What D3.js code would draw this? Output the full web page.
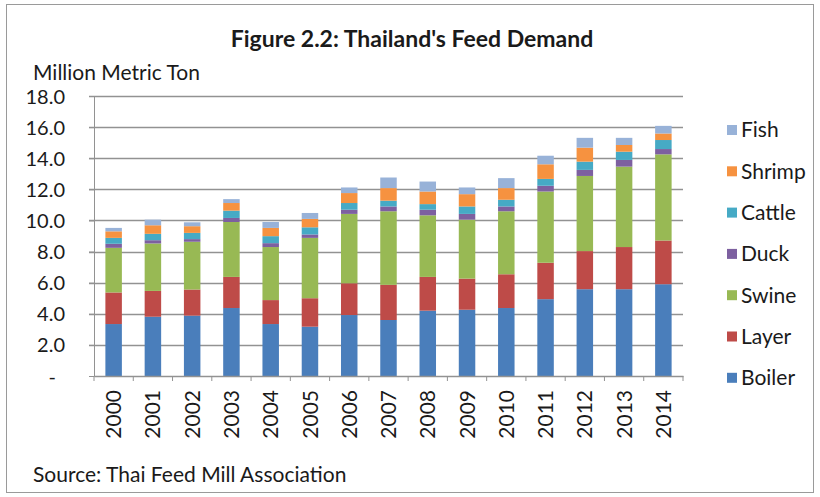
<!DOCTYPE html>
<html><head><meta charset="utf-8">
<script src="https://cdn.jsdelivr.net/npm/d3@7/dist/d3.min.js"></script>
<style>body{margin:0;background:#fff}svg{display:block}text{font-family:Lato,"Open Sans",sans-serif;fill:#1a1a1a}</style>
</head><body><svg id="c" width="820" height="497"></svg>
<script>
const years = ["2000","2001","2002","2003","2004","2005","2006","2007","2008","2009","2010","2011","2012","2013","2014"];
const boiler = [3.34,3.81,3.88,4.37,3.34,3.17,3.92,3.60,4.20,4.26,4.37,4.94,5.58,5.58,5.90];
const layer  = [2.03,1.66,1.68,2.00,1.54,1.83,2.04,2.26,2.17,2.00,2.17,2.34,2.45,2.71,2.81];
const swine  = [2.87,3.05,3.07,3.53,3.41,3.88,4.46,4.73,3.96,3.79,4.05,4.58,4.83,5.17,5.54];
const duck   = [0.26,0.21,0.17,0.26,0.25,0.22,0.27,0.31,0.36,0.37,0.31,0.37,0.39,0.43,0.34];
const cattle = [0.38,0.41,0.40,0.47,0.45,0.46,0.43,0.37,0.36,0.48,0.43,0.44,0.53,0.53,0.58];
const shrimp = [0.42,0.55,0.43,0.49,0.53,0.54,0.64,0.81,0.81,0.79,0.75,0.94,0.90,0.43,0.42];
const fish   = [0.22,0.36,0.25,0.25,0.38,0.38,0.36,0.68,0.64,0.43,0.64,0.55,0.63,0.46,0.49];
const seriesNames = ["Boiler","Layer","Swine","Duck","Cattle","Shrimp","Fish"];
const seriesValues = [boiler,layer,swine,duck,cattle,shrimp,fish];
const colors = ["#4a7ebb","#be4b48","#98b954","#7d60a0","#46aac5","#f69240","#98b2d8"];
const yTicks = [0,2,4,6,8,10,12,14,16,18];

const rows = years.map((y,i)=>{const r={year:y}; seriesNames.forEach((s,k)=>r[s]=seriesValues[k][i]); return r;});
const stack = d3.stack().keys(seriesNames)(rows);

const svg = d3.select("#c");
const L=94,R=683,T=96,B=376;
const x = d3.scaleBand().domain(years).range([L,R]).paddingInner(0.58).paddingOuter(0.29);
const y = d3.scaleLinear().domain([0,18]).range([B,T]);

// frame
svg.append("rect").attr("x",6.5).attr("y",4.5).attr("width",807).attr("height",488).attr("fill","none").attr("stroke","#9a9a9a");

// gridlines
svg.append("g").selectAll("line").data(yTicks.filter(t=>t>0)).join("line")
  .attr("x1",L-5).attr("x2",R).attr("y1",d=>Math.round(y(d))+0.5).attr("y2",d=>Math.round(y(d))+0.5)
  .attr("stroke","#929292").attr("stroke-width",1.4);

// y axis
const ya = svg.append("g").attr("transform",`translate(${L},0)`)
  .call(d3.axisLeft(y).tickValues(yTicks).tickSize(5).tickFormat(d=>d===0?"-":d3.format(".1f")(d)));
ya.select(".domain").attr("stroke","#929292");
ya.selectAll(".tick line").attr("stroke","#929292");
ya.selectAll("text").attr("font-size",20).attr("x",d=>d===0?-38:-29).attr("dy","0.35em");

// bars
svg.append("g").selectAll("g").data(stack).join("g").attr("fill",(d,i)=>colors[i])
  .selectAll("rect").data(d=>d).join("rect")
  .attr("x",d=>x(d.data.year)).attr("width",x.bandwidth())
  .attr("y",d=>y(d[1])).attr("height",d=>y(d[0])-y(d[1]));

// x axis
const xa = svg.append("g").attr("transform",`translate(0,${B})`)
  .call(d3.axisBottom(x).tickSize(0).tickSizeOuter(0));
xa.select(".domain").attr("stroke","#929292").attr("stroke-width",1.4);
xa.selectAll(".tick text").attr("font-size",21).attr("transform","rotate(-90)")
  .attr("text-anchor","end").attr("x",-14).attr("y",0).attr("dy","0.36em");
// category separator ticks
svg.append("g").selectAll("line").data(d3.range(years.length+1)).join("line")
  .attr("x1",i=>L+i*(R-L)/years.length).attr("x2",i=>L+i*(R-L)/years.length)
  .attr("y1",B).attr("y2",B+5).attr("stroke","#929292");

// titles
svg.append("text").attr("x",412).attr("y",47).attr("text-anchor","middle")
  .attr("font-size",23).attr("font-weight","bold").text("Figure 2.2: Thailand's Feed Demand");
svg.append("text").attr("x",33).attr("y",80).attr("font-size",21).text("Million Metric Ton");
svg.append("text").attr("x",33).attr("y",482).attr("font-size",21).text("Source: Thai Feed Mill Association");

// legend
const legend = svg.append("g").selectAll("g").data(seriesNames.map((s,i)=>({s,i})).reverse()).join("g")
  .attr("transform",(d,j)=>`translate(727,${130+j*41.3})`);
legend.append("rect").attr("x",0).attr("y",-5).attr("width",10).attr("height",10).attr("fill",d=>colors[d.i]);
legend.append("text").attr("x",14).attr("y",0).attr("dy","0.35em").attr("font-size",21).text(d=>d.s);
</script></body></html>
